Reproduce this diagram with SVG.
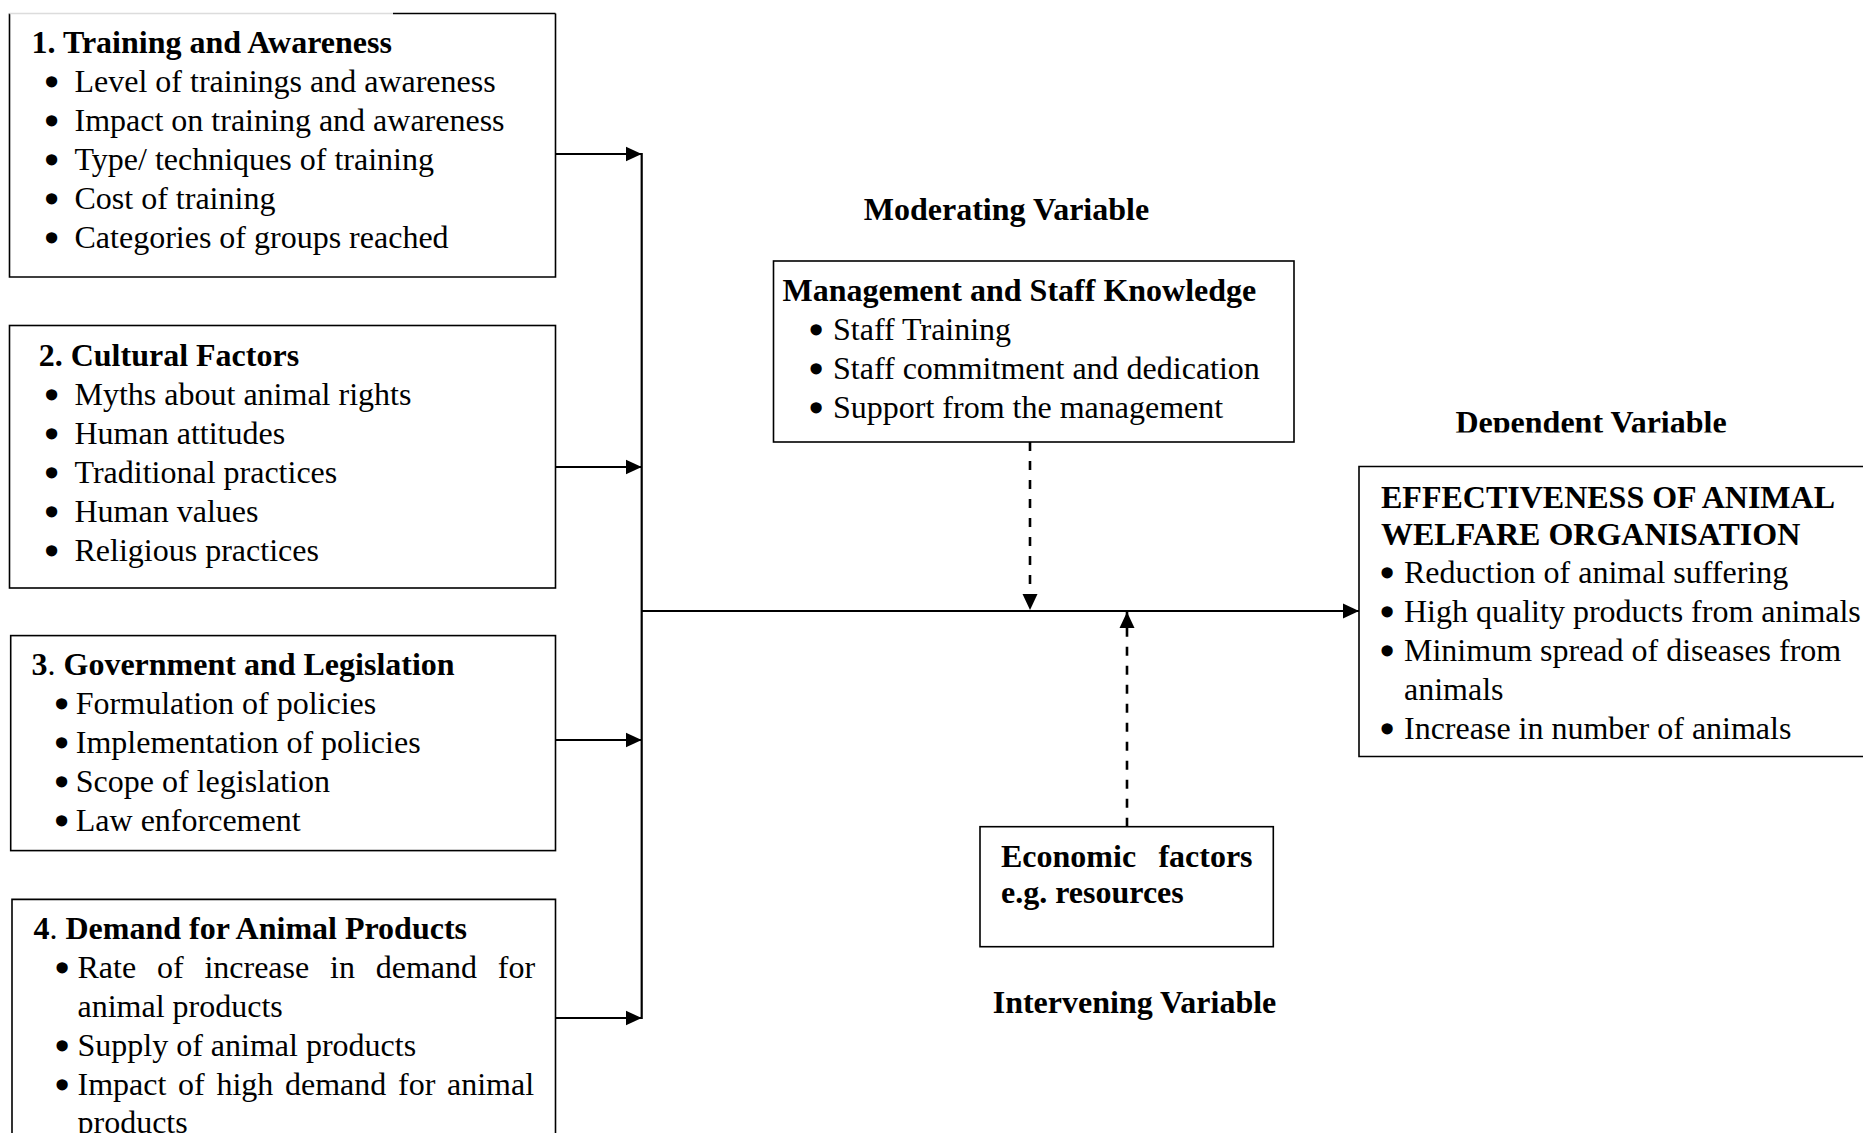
<svg xmlns="http://www.w3.org/2000/svg" width="1863" height="1133" viewBox="0 0 1863 1133">
<style>
text{font-family:"Liberation Serif","Times New Roman",serif;font-size:32px;fill:#000}
.b{font-weight:bold}
.n{font-weight:normal}
.bul{stroke:#000;stroke-width:3.6;stroke-linejoin:round}
.box{fill:none;stroke:#000;stroke-width:1.6}
.con{fill:none;stroke:#000;stroke-width:2.2}
.dash{fill:none;stroke:#000;stroke-width:2.6;stroke-dasharray:9 10}
</style>
<defs>
<marker id="ah" viewBox="0 0 16 16" markerWidth="16" markerHeight="16" refX="16" refY="8" orient="auto" markerUnits="userSpaceOnUse"><path d="M0,0.5 L16,8 L0,15.5 Z" fill="#000"/></marker>
<clipPath id="depclip"><rect x="1400" y="380" width="400" height="52.5"/></clipPath>
</defs>
<rect width="1863" height="1133" fill="#fff"/>

<g id="training">
<path class="box" d="M9.5,13.5 V277 H555.5 V13.5"/>
<line x1="9.5" y1="13.5" x2="393" y2="13.5" stroke="#dcdcdc" stroke-width="1.6"/>
<line x1="393" y1="13.5" x2="555.5" y2="13.5" stroke="#000" stroke-width="1.6"/>
<text class="b" x="31.5" y="52.7">1. Training and Awareness</text>
<text y="91.7"><tspan class="bul" x="45.9" dy="1.5">•</tspan><tspan x="74.5" dy="-1.5">Level of trainings and awareness</tspan></text>
<text y="130.7"><tspan class="bul" x="45.9" dy="1.5">•</tspan><tspan x="74.5" dy="-1.5">Impact on training and awareness</tspan></text>
<text y="169.7"><tspan class="bul" x="45.9" dy="1.5">•</tspan><tspan x="74.5" dy="-1.5">Type/ techniques of training</tspan></text>
<text y="208.7"><tspan class="bul" x="45.9" dy="1.5">•</tspan><tspan x="74.5" dy="-1.5">Cost of training</tspan></text>
<text y="247.7"><tspan class="bul" x="45.9" dy="1.5">•</tspan><tspan x="74.5" dy="-1.5">Categories of groups reached</tspan></text>
</g>

<g id="cultural">
<rect class="box" x="9.5" y="325.5" width="546" height="262.5"/>
<text class="b" x="38.7" y="365.5">2. Cultural Factors</text>
<text y="404.5"><tspan class="bul" x="45.9" dy="1.5">•</tspan><tspan x="74.5" dy="-1.5">Myths about animal rights</tspan></text>
<text y="443.5"><tspan class="bul" x="45.9" dy="1.5">•</tspan><tspan x="74.5" dy="-1.5">Human attitudes</tspan></text>
<text y="482.5"><tspan class="bul" x="45.9" dy="1.5">•</tspan><tspan x="74.5" dy="-1.5">Traditional practices</tspan></text>
<text y="521.5"><tspan class="bul" x="45.9" dy="1.5">•</tspan><tspan x="74.5" dy="-1.5">Human values</tspan></text>
<text y="560.5"><tspan class="bul" x="45.9" dy="1.5">•</tspan><tspan x="74.5" dy="-1.5">Religious practices</tspan></text>
</g>

<g id="government">
<rect class="box" x="10.7" y="635.6" width="544.8" height="215"/>
<text class="b" x="31.5" y="674.5">3<tspan class="n">.</tspan> Government and Legislation</text>
<text y="713.5"><tspan class="bul" x="55.9" dy="1.5">•</tspan><tspan x="75.8" dy="-1.5">Formulation of policies</tspan></text>
<text y="752.5"><tspan class="bul" x="55.9" dy="1.5">•</tspan><tspan x="75.8" dy="-1.5">Implementation of policies</tspan></text>
<text y="791.5"><tspan class="bul" x="55.9" dy="1.5">•</tspan><tspan x="75.8" dy="-1.5">Scope of legislation</tspan></text>
<text y="830.5"><tspan class="bul" x="55.9" dy="1.5">•</tspan><tspan x="75.8" dy="-1.5">Law enforcement</tspan></text>
</g>

<g id="demand">
<path class="box" d="M12,1140 V899.4 H555.5 V1140"/>
<text class="b" x="33.5" y="938.5">4<tspan class="n">.</tspan> Demand for Animal Products</text>
<text y="977.5"><tspan class="bul" x="56.4" dy="1.5">•</tspan><tspan x="77.5" dy="-1.5" word-spacing="12.8">Rate of increase in demand for</tspan></text>
<text x="77.5" y="1016.5">animal products</text>
<text y="1055.5"><tspan class="bul" x="56.4" dy="1.5">•</tspan><tspan x="77.5" dy="-1.5">Supply of animal products</tspan></text>
<text y="1094.5"><tspan class="bul" x="56.4" dy="1.5">•</tspan><tspan x="77.5" dy="-1.5" word-spacing="3.7">Impact of high demand for animal</tspan></text>
<text x="77.5" y="1132.5">products</text>
</g>

<g id="moderating">
<text class="b" x="863.8" y="220">Moderating Variable</text>
<rect class="box" x="773.5" y="261" width="520.5" height="181"/>
<text class="b" x="782.5" y="300.5">Management and Staff Knowledge</text>
<text y="339.5"><tspan class="bul" x="810.4" dy="1.5">•</tspan><tspan x="833" dy="-1.5">Staff Training</tspan></text>
<text y="378.5"><tspan class="bul" x="810.4" dy="1.5">•</tspan><tspan x="833" dy="-1.5">Staff commitment and dedication</tspan></text>
<text y="417.5"><tspan class="bul" x="810.4" dy="1.5">•</tspan><tspan x="833" dy="-1.5">Support from the management</tspan></text>
</g>

<g id="intervening">
<rect class="box" x="980" y="826.7" width="293.3" height="120"/>
<text class="b" x="1001" y="866.7" word-spacing="14.3">Economic factors</text>
<text class="b" x="1001" y="903.3">e.g. resources</text>
<text class="b" x="992.7" y="1013.3">Intervening Variable</text>
</g>

<g id="dependent">
<text class="b" x="1455.5" y="433" clip-path="url(#depclip)">Dependent Variable</text>
<path class="box" d="M1875,466.5 H1359 V756.5 H1875"/>
<text class="b" x="1381" y="507.5">EFFECTIVENESS OF ANIMAL</text>
<text class="b" x="1381" y="544.5">WELFARE ORGANISATION</text>
<text y="582.5"><tspan class="bul" x="1381.4" dy="1.5">•</tspan><tspan x="1404" dy="-1.5">Reduction of animal suffering</tspan></text>
<text y="621.5"><tspan class="bul" x="1381.4" dy="1.5">•</tspan><tspan x="1404" dy="-1.5">High quality products from animals</tspan></text>
<text y="660.5"><tspan class="bul" x="1381.4" dy="1.5">•</tspan><tspan x="1404" dy="-1.5">Minimum spread of diseases from</tspan></text>
<text x="1404" y="699.5">animals</text>
<text y="738.5"><tspan class="bul" x="1381.4" dy="1.5">•</tspan><tspan x="1404" dy="-1.5">Increase in number of animals</tspan></text>
</g>

<g id="connectors">
<line class="con" x1="641.7" y1="153" x2="641.7" y2="1019"/>
<line class="con" x1="555.5" y1="154" x2="641.7" y2="154" marker-end="url(#ah)"/>
<line class="con" x1="555.5" y1="467" x2="641.7" y2="467" marker-end="url(#ah)"/>
<line class="con" x1="555.5" y1="740" x2="641.7" y2="740" marker-end="url(#ah)"/>
<line class="con" x1="555.5" y1="1018" x2="641.7" y2="1018" marker-end="url(#ah)"/>
<line class="con" x1="641.7" y1="611" x2="1359" y2="611" marker-end="url(#ah)"/>
<line class="dash" x1="1030" y1="442" x2="1030" y2="610" marker-end="url(#ah)"/>
<line class="dash" x1="1127" y1="826.7" x2="1127" y2="612" marker-end="url(#ah)"/>
</g>
</svg>
